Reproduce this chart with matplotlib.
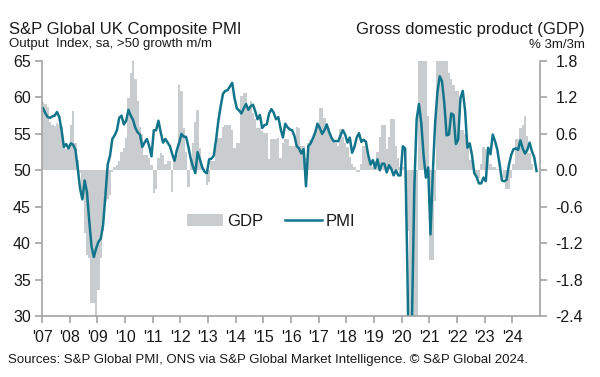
import matplotlib
matplotlib.use("Agg")
import matplotlib.pyplot as plt
from matplotlib.patches import Patch
from matplotlib.lines import Line2D
import numpy as np

plt.rcParams['font.family'] = ['Liberation Sans', 'DejaVu Sans']
plt.rcParams['axes.unicode_minus'] = False

# ---- data (monthly, Jan 2007 onwards) ----
start_year = 2007
year_labels = ["'07", "'08", "'09", "'10", "'11", "'12", "'13", "'14", "'15",
               "'16", "'17", "'18", "'19", "'20", "'21", "'22", "'23", "'24"]

pmi = [
    # 2007
    58.5, 57.8, 57.3, 57.2, 57.4, 57.5, 58.0, 57.3, 55.5, 53.2, 53.6, 53.0,
    # 2008
    53.7, 53.5, 52.8, 50.3, 47.5, 46.0, 48.6, 47.0, 43.0, 39.5, 38.1, 39.3,
    # 2009
    40.2, 40.6, 42.5, 46.5, 50.8, 52.0, 54.3, 54.8, 55.5, 57.2, 57.5, 56.3,
    # 2010
    56.8, 58.3, 57.5, 56.9, 55.8, 55.2, 54.9, 53.2, 53.8, 54.3, 53.3, 51.9,
    # 2011
    55.5, 55.5, 56.8, 55.2, 53.8, 54.3, 53.8, 53.3, 52.2, 51.3, 52.8, 53.8,
    # 2012
    55.0, 54.6, 54.6, 53.2, 51.6, 50.5, 49.6, 52.5, 51.5, 50.4, 49.8, 49.6,
    # 2013
    51.5, 51.6, 52.0, 54.2, 56.8, 58.8, 60.5, 60.9, 61.0, 61.5, 62.0, 59.9,
    # 2014
    58.5, 58.2, 57.8, 58.5, 59.1, 58.3, 58.8, 59.0, 58.1, 57.0, 57.6, 55.8,
    # 2015
    56.2, 56.3, 57.8, 58.4, 57.9, 57.0, 57.3, 55.7, 54.5, 56.4, 55.9, 55.6,
    # 2016
    55.5, 54.7, 53.3, 53.0, 52.3, 52.9, 47.8, 53.3, 53.7, 54.4, 55.2, 56.4,
    # 2017
    55.8, 55.0, 55.5, 56.3, 55.3, 54.5, 54.0, 54.0, 54.0, 54.8, 55.5, 54.9,
    # 2018
    53.8, 54.5, 52.4, 53.2, 54.5, 55.1, 53.9, 54.2, 53.9, 52.1, 50.8, 51.4,
    # 2019
    50.3, 51.5, 50.0, 50.9, 50.9, 49.7, 50.7, 50.2, 49.3, 50.0, 49.3, 49.3,
    # 2020
    53.3, 53.0, 36.0, 13.8, 30.0, 47.7, 57.0, 59.1, 56.5, 52.1, 49.0, 50.4,
    # 2021
    41.2, 49.6, 56.4, 60.7, 62.9, 62.2, 59.2, 54.8, 54.9, 57.8, 57.6, 53.6,
    # 2022
    54.2, 59.9, 60.9, 58.2, 53.1, 53.7, 52.1, 49.6, 49.1, 48.2, 48.2, 49.0,
    # 2023
    48.5, 53.1, 52.2, 54.9, 54.0, 52.8, 50.8, 48.6, 48.5, 48.7, 50.7, 52.1,
    # 2024
    52.9, 53.0, 52.8, 54.1, 53.0, 52.3, 52.8, 53.8, 52.6, 51.8, 49.9,
]

gdp = [
    # 2007
    1.13, 1.10, 1.05, 0.80, 0.75, 0.73, 0.78, 0.75, 0.72, 0.38, 0.35, 0.40,
    # 2008
    0.75, 0.97, 0.45, 0.17, -0.05, -0.38, -1.04, -1.40, -1.45, -2.19, -2.19, -2.50,
    # 2009
    -1.97, -1.45, -1.00, -0.50, -0.47, -0.40, -0.02, 0.06, 0.08, 0.16, 0.30, 0.36,
    # 2010
    0.53, 1.19, 1.60, 1.85, 1.50, 1.14, 0.72, 0.60, 0.26, 0.26, 0.20, 0.09,
    # 2011
    -0.38, -0.30, 0.20, 0.29, 0.25, 0.10, 0.15, 0.15, -0.35, 0.20, 0.25, 1.41,
    # 2012
    1.30, 0.70, 0.30, -0.27, 0.20, 0.45, 0.80, 1.00, 0.37, 0.05, 0.02, -0.24,
    # 2013
    -0.20, 0.15, 0.15, 0.40, 0.53, 0.53, 0.72, 0.75, 0.75, 0.75, 0.67, 0.37,
    # 2014
    0.45, 0.45, 1.22, 1.27, 1.27, 1.03, 1.14, 0.95, 0.85, 0.70, 0.70, 0.65,
    # 2015
    0.62, 0.62, 0.18, 0.51, 0.51, 0.51, 0.53, 0.20, 0.45, 0.51, 0.51, 0.40,
    # 2016
    0.40, 0.40, 0.72, 0.70, 0.40, 0.40, 0.20, 0.45, 0.50, 0.55, 0.65, 0.78,
    # 2017
    1.03, 1.03, 0.86, 0.75, 0.70, 0.55, 0.50, 0.45, 0.40, 0.68, 0.55, 0.45,
    # 2018
    0.38, 0.22, 0.10, 0.05, -0.03, -0.03, 0.10, 0.40, 0.50, 0.30, 0.15, 0.05,
    # 2019
    0.15, 0.30, 0.55, 0.75, 0.75, 0.35, 0.55, 0.85, 0.85, 0.40, 0.20, 0.05,
    # 2020
    0.05, 0.00, -1.00, -2.60, -2.60, -2.60, -2.60, 1.90, 1.90, 1.90, 1.90, 0.90,
    # 2021
    -1.48, -1.48, -0.50, 1.90, 1.90, 1.90, 1.90, 1.90, 1.60, 1.50, 1.40, 1.30,
    # 2022
    1.30, 0.66, 0.66, 0.60, 0.39, 0.17, 0.17, -0.05, -0.13, -0.13, 0.10, 0.39,
    # 2023
    0.35, 0.30, 0.10, 0.05, 0.05, 0.02, 0.02, 0.00, -0.13, -0.30, -0.30, -0.13,
    # 2024
    0.10, 0.52, 0.52, 0.70, 0.75, 0.90, 0.56, 0.29, 0.10,
]

pmi_ticks = [30, 35, 40, 45, 50, 55, 60, 65]
gdp_ticks = [-2.4, -1.8, -1.2, -0.6, 0.0, 0.6, 1.2, 1.8]

# ---- style ----
LINE_C = '#13758c'
BAR_C = '#c9cdcf'
AX_C = '#a3a3a3'
TXT_C = '#1a1a1a'

fig = plt.figure(figsize=(6.0, 3.77), dpi=100)
rect = [42 / 600, 1 - 316 / 377, (540 - 42) / 600, (316 - 61) / 377]
ax = fig.add_axes(rect)
ax2 = ax.twinx()

x_pmi = np.arange(len(pmi)) + 0.5
x_gdp = np.arange(len(gdp)) + 0.5

ax2.bar(x_gdp, gdp, width=1.0, color=BAR_C, linewidth=0, align='center')
ax.plot(x_pmi, pmi, color=LINE_C, lw=1.8, solid_joinstyle='round')

ax.set_zorder(ax2.get_zorder() + 1)
ax.patch.set_visible(False)

n_months = 216
ax.set_xlim(0, n_months)
ax.set_ylim(30, 65)
ax2.set_ylim(-2.4, 1.8)

ax.set_xticks(np.arange(len(year_labels)) * 12)
ax.set_xticklabels(year_labels)
ax.set_yticks(pmi_ticks)
ax.set_yticklabels([str(t) for t in pmi_ticks])
ax2.set_yticks(gdp_ticks)
ax2.set_yticklabels(['%.1f' % t for t in gdp_ticks])

for a in (ax, ax2):
    for s in a.spines.values():
        s.set_color(AX_C)
        s.set_linewidth(1.2)
ax.spines['top'].set_visible(False)
ax.spines['right'].set_visible(False)
ax2.spines['top'].set_visible(False)
ax2.spines['left'].set_visible(False)
ax2.spines['bottom'].set_visible(False)

ax.tick_params(axis='y', direction='out', length=5, width=1.2, color=AX_C,
               labelsize=11.5, labelcolor=TXT_C, pad=3)
ax.tick_params(axis='x', direction='out', length=5, width=1.2, color=AX_C,
               labelsize=11.5, labelcolor=TXT_C, pad=5)
ax2.tick_params(axis='y', direction='out', length=5, width=1.2, color=AX_C,
                labelsize=11.5, labelcolor=TXT_C, pad=6)

handles = [Patch(facecolor=BAR_C, edgecolor='none'),
           Line2D([0], [0], color=LINE_C, lw=1.8)]
ax.legend(handles, ['GDP', 'PMI'], loc='center', bbox_to_anchor=(0.46, 0.37),
          ncol=2, frameon=False, fontsize=12, handlelength=2.2,
          handletextpad=0.25, columnspacing=1.3, labelcolor=TXT_C)

fig.text(9 / 600, 1 - 34 / 377, 'S&P Global UK Composite PMI', fontsize=12,
         color=TXT_C, ha='left', va='baseline')
fig.text(9 / 600, 1 - 47.5 / 377, 'Output  Index, sa, >50 growth m/m', fontsize=9.5,
         color=TXT_C, ha='left', va='baseline')
fig.text(585 / 600, 1 - 34 / 377, 'Gross domestic product (GDP)', fontsize=12,
         color=TXT_C, ha='right', va='baseline')
fig.text(585 / 600, 1 - 47.5 / 377, '% 3m/3m', fontsize=9.5,
         color=TXT_C, ha='right', va='baseline')
fig.text(7.5 / 600, 1 - 363 / 377,
         'Sources: S&P Global PMI, ONS via S&P Global Market Intelligence. \u00a9 S&P Global 2024.',
         fontsize=9.5, color=TXT_C, ha='left', va='baseline')

fig.savefig('out.png', dpi=100)
